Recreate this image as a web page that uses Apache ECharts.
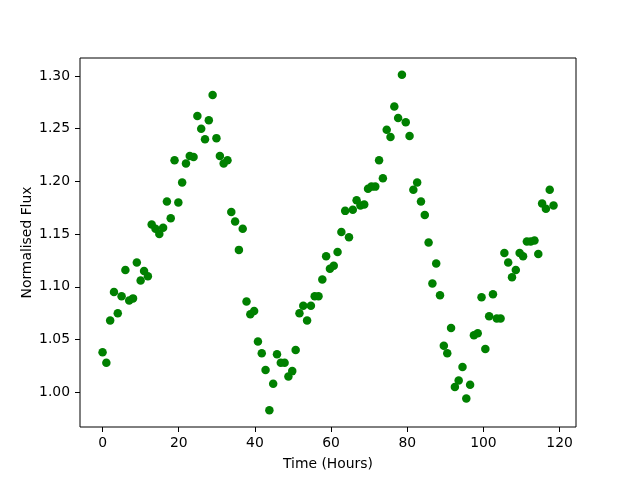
<!DOCTYPE html>
<html>
<head>
<meta charset="utf-8">
<script src="https://cdn.jsdelivr.net/npm/echarts@6/dist/echarts.min.js"></script>
<style>
  html, body { margin: 0; padding: 0; background: #fff; }
  #chart { width: 640px; height: 480px; }
</style>
</head>
<body>
<div id="chart"></div>
<script>
// 时间（小时）
var hours = [0, 1.0, 2.0, 3.0, 4.0, 5.0, 6.0, 7.0, 8.0, 9.0,
  10.0, 10.9, 11.9, 12.9, 13.9, 14.9, 15.9, 16.9, 17.9, 18.9,
  19.9, 20.9, 21.9, 22.9, 23.9, 24.9, 25.9, 26.9, 27.9, 28.9,
  29.9, 30.8, 31.8, 32.8, 33.8, 34.8, 35.8, 36.8, 37.8, 38.8,
  39.8, 40.8, 41.8, 42.8, 43.8, 44.8, 45.8, 46.8, 47.8, 48.8,
  49.8, 50.7, 51.7, 52.7, 53.7, 54.7, 55.7, 56.7, 57.7, 58.7,
  59.7, 60.7, 61.7, 62.7, 63.7, 64.7, 65.7, 66.7, 67.7, 68.7,
  69.7, 70.6, 71.6, 72.6, 73.6, 74.6, 75.6, 76.6, 77.6, 78.6,
  79.6, 80.6, 81.6, 82.6, 83.6, 84.6, 85.6, 86.6, 87.6, 88.6,
  89.6, 90.5, 91.5, 92.5, 93.5, 94.5, 95.5, 96.5, 97.5, 98.5,
  99.5, 100.5, 101.5, 102.5, 103.5, 104.5, 105.5, 106.5, 107.5, 108.5,
  109.5, 110.4, 111.4, 112.4, 113.4, 114.4, 115.4, 116.4, 117.4, 118.4];

// 归一化通量
var flux = [1.038, 1.028, 1.068, 1.095, 1.075, 1.091, 1.116, 1.087, 1.089, 1.123,
  1.106, 1.115, 1.110, 1.159, 1.155, 1.150, 1.156, 1.181, 1.165, 1.220,
  1.180, 1.199, 1.217, 1.224, 1.223, 1.262, 1.250, 1.240, 1.258, 1.282,
  1.241, 1.224, 1.217, 1.220, 1.171, 1.162, 1.135, 1.155, 1.086, 1.074,
  1.077, 1.048, 1.037, 1.021, 0.983, 1.008, 1.036, 1.028, 1.028, 1.015,
  1.020, 1.040, 1.075, 1.082, 1.068, 1.082, 1.091, 1.091, 1.107, 1.129,
  1.117, 1.120, 1.133, 1.152, 1.172, 1.147, 1.173, 1.182, 1.177, 1.178,
  1.193, 1.195, 1.195, 1.220, 1.203, 1.249, 1.242, 1.271, 1.260, 1.301,
  1.256, 1.243, 1.192, 1.199, 1.181, 1.168, 1.142, 1.103, 1.122, 1.092,
  1.044, 1.037, 1.061, 1.005, 1.011, 1.024, 0.994, 1.007, 1.054, 1.056,
  1.090, 1.041, 1.072, 1.093, 1.070, 1.070, 1.132, 1.123, 1.109, 1.116,
  1.132, 1.129, 1.143, 1.143, 1.144, 1.131, 1.179, 1.174, 1.192, 1.177];

// 刻度
var xTicks = [0, 20, 40, 60, 80, 100, 120];
var yTicks = [1.00, 1.05, 1.10, 1.15, 1.20, 1.25, 1.30];

(function() {
    var chart = echarts.init(document.getElementById('chart'));
    var points = hours.map(function(h, i) { return [h, flux[i]]; });
    var font = 'DejaVu Sans';

    chart.setOption({
        animation: false,
        grid: {
            left: 80, right: 64, top: 58, bottom: 53,
            show: true, borderColor: '#000', borderWidth: 1
        },
        xAxis: {
            type: 'value',
            min: -5.92, max: 124.3,
            name: 'Time (Hours)',
            nameLocation: 'middle',
            nameGap: 30,
            nameMoveOverlap: false,
            nameTextStyle: { color: '#000', fontSize: 13.9, fontFamily: font },
            splitLine: { show: false },
            axisLine: { show: false, onZero: false },
            axisTick: { show: true, inside: false, length: 5, customValues: xTicks,
                lineStyle: { color: '#000', width: 1 } },
            axisLabel: { customValues: xTicks, color: '#000', fontSize: 13.9,
                fontFamily: font, margin: 9 }
        },
        yAxis: {
            type: 'value',
            min: 0.967, max: 1.317,
            name: 'Normalised Flux',
            nameLocation: 'middle',
            nameGap: 46,
            nameMoveOverlap: false,
            nameTextStyle: { color: '#000', fontSize: 13.9, fontFamily: font },
            splitLine: { show: false },
            axisLine: { show: false, onZero: false },
            axisTick: { show: true, inside: false, length: 5, customValues: yTicks,
                lineStyle: { color: '#000', width: 1 } },
            axisLabel: { customValues: yTicks, color: '#000', fontSize: 13.9,
                fontFamily: font, margin: 10,
                formatter: function(v) { return v.toFixed(2); } }
        },
        series: [{
            type: 'scatter',
            data: points,
            symbol: 'circle',
            symbolSize: 8.5,
            itemStyle: { color: '#008000', opacity: 1 }
        }]
    });
})();
</script>
</body>
</html>
